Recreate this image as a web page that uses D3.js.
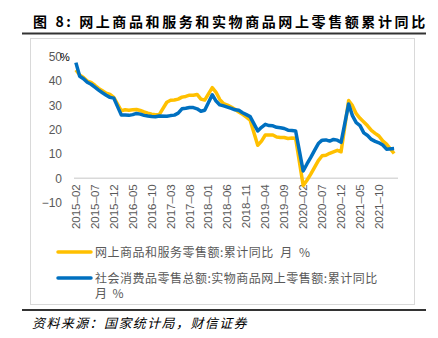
<!DOCTYPE html>
<html>
<head>
<meta charset="utf-8">
<script src="https://cdn.jsdelivr.net/npm/d3@7"></script>
<style>
  body { margin: 0; background: #fff; }
  svg { display: block; }
  text { font-family: "Liberation Sans", Arial, sans-serif; }
  .cjk { font-family: "Noto Sans CJK SC", sans-serif; }
</style>
</head>
<body>
<svg id="chart" width="438" height="338"></svg>
<script>
// months on the category axis (January points are missing in the source data)
const months = [
  "2015-02","2015-03","2015-04","2015-05","2015-06","2015-07","2015-08","2015-09","2015-10","2015-11","2015-12",
  "2016-01","2016-02","2016-03","2016-04","2016-05","2016-06","2016-07","2016-08","2016-09","2016-10","2016-11","2016-12",
  "2017-01","2017-02","2017-03","2017-04","2017-05","2017-06","2017-07","2017-08","2017-09","2017-10","2017-11","2017-12",
  "2018-01","2018-02","2018-03","2018-04","2018-05","2018-06","2018-07","2018-08","2018-09","2018-10","2018-11","2018-12",
  "2019-01","2019-02","2019-03","2019-04","2019-05","2019-06","2019-07","2019-08","2019-09","2019-10","2019-11","2019-12",
  "2020-01","2020-02","2020-03","2020-04","2020-05","2020-06","2020-07","2020-08","2020-09","2020-10","2020-11","2020-12",
  "2021-01","2021-02","2021-03","2021-04","2021-05","2021-06","2021-07","2021-08","2021-09","2021-10","2021-11","2021-12",
  "2022-01","2022-02"
];

// 网上商品和服务零售额:累计同比 (%)
const onlineAll = [
  44.6, 42.5, 41.5, 40.0, 39.5, 38.3, 37.0, 36.0, 35.0, 34.5, 33.3,
  null, 27.8, 28.2, 28.0, 28.2, 28.3, 27.9, 27.3, 26.8, 26.4, 26.2, 26.2,
  null, 31.3, 32.1, 32.2, 32.6, 33.4, 33.7, 34.2, 34.2, 34.5, 32.6, 32.2,
  null, 37.3, 35.4, 32.4, 30.7, 30.1, 29.3, 28.4, 27.3, 26.3, 25.2, 23.9,
  null, 13.6, 15.3, 17.8, 17.8, 17.8, 17.0, 16.8, 16.8, 16.4, 16.6, 16.5,
  null, -3.0, -0.8, 1.7, 4.5, 7.3, 9.3, 9.5, 10.3, 10.9, 11.5, 10.9,
  null, 32.0, 29.9, 26.6, 24.7, 23.2, 21.6, 19.7, 18.5, 17.4, 15.4, 14.1,
  null, 10.2
];

// 社会消费品零售总额:实物商品网上零售额:累计同比 (%)
const onlineGoods = [
  47.6, 42.0, 41.0, 39.5, 38.7, 37.5, 36.3, 35.2, 34.2, 33.3, 33.0,
  null, 26.0, 26.0, 25.9, 26.2, 26.7, 26.4, 25.9, 25.6, 25.4, 25.3, 25.6,
  null, 25.5, 25.8, 26.0, 26.8, 28.6, 28.8, 29.1, 29.1, 28.6, 27.6, 28.0,
  null, 34.4, 31.8, 30.2, 29.8, 29.3, 28.8, 28.2, 28.0, 27.0, 26.2, 25.4,
  null, 19.5, 21.0, 22.2, 21.7, 21.6, 21.0, 20.8, 20.5, 19.8, 19.7, 19.5,
  null, 3.0, 5.9, 8.6, 11.5, 14.3, 15.7, 15.8, 15.3, 16.0, 15.7, 14.8,
  null, 30.6, 25.8, 22.9, 21.7, 18.7, 17.6, 16.0, 15.2, 14.6, 13.7, 12.0,
  null, 12.3
];

const tickLabels = ["2015-02","2015-07","2015-12","2016-05","2016-10","2017-03","2017-08","2018-01",
  "2018-06","2018-11","2019-04","2019-09","2020-02","2020-07","2020-12","2021-05","2021-10"];
const yTicks = [-10, 0, 10, 20, 30, 40, 50];

const seriesNames = ["网上商品和服务零售额:累计同比  月  %", "社会消费品零售总额:实物商品网上零售额:累计同比"];
const colors = ["#FFC000", "#0070C0"];

const svg = d3.select("#chart");

// title
svg.append("text").attr("class", "cjk")
  .attr("x", 33).attr("y", 27)
  .attr("font-size", 14).attr("font-weight", "bold")
  .attr("letter-spacing", 2.6).attr("fill", "#000")
  .text("图 8:  网上商品和服务和实物商品网上零售额累计同比");
svg.append("line").attr("x1", 22).attr("x2", 426).attr("y1", 33.5).attr("y2", 33.5)
  .attr("stroke", "#333").attr("stroke-width", 2);

// chart frame
svg.append("rect").attr("x", 30.5).attr("y", 38.5).attr("width", 384).attr("height", 266)
  .attr("fill", "#fff").attr("stroke", "#d9d9d9").attr("stroke-width", 1);

const x = d3.scalePoint().domain(months).range([74, 396]).padding(0.5);
const y = d3.scaleLinear().domain([-10, 50]).range([202.6, 56.8]);

// y labels
svg.append("g").selectAll("text").data(yTicks).join("text")
  .attr("x", 62).attr("y", d => y(d)).attr("dy", "0.35em")
  .attr("text-anchor", "end").attr("font-size", 12).attr("fill", "#595959")
  .text(d => d < 0 ? "\u2212" + Math.abs(d) : d);
// unit label, overlapping the top tick label as in the source
svg.append("text").attr("x", 60).attr("y", 61).attr("font-size", 11).attr("fill", "#000").text("%");

// zero axis line
svg.append("line").attr("x1", 74).attr("x2", 398).attr("y1", y(0)).attr("y2", y(0))
  .attr("stroke", "#d9d9d9").attr("stroke-width", 1.5);

// x labels
svg.append("g").selectAll("text").data(tickLabels).join("text")
  .attr("transform", d => `translate(${x(d) + 4},${y(0) + 6}) rotate(-90)`)
  .attr("text-anchor", "end").attr("font-size", 11.5).attr("fill", "#595959")
  .text(d => d.replace("-", "\u2013"));

// lines (gaps for missing January points are connected, as in the source)
const line = d3.line().x(d => x(d.m)).y(d => y(d.v));
[onlineAll, onlineGoods].forEach((vals, k) => {
  const pts = months.map((m, i) => ({ m, v: vals[i] })).filter(d => d.v != null);
  svg.append("path").datum(pts)
    .attr("d", line).attr("fill", "none")
    .attr("stroke", colors[k]).attr("stroke-width", 3.5)
    .attr("stroke-linejoin", "round");
});

// legend
const legY = [252, 278];
legY.forEach((ly, k) => {
  svg.append("line").attr("x1", 58).attr("x2", 91).attr("y1", ly).attr("y2", ly)
    .attr("stroke", colors[k]).attr("stroke-width", 3.5).attr("stroke-linecap", "round");
  svg.append("text").attr("class", "cjk")
    .attr("x", 95).attr("y", ly + 4.5)
    .attr("font-size", 12).attr("letter-spacing", 0.5).attr("fill", "#595959")
    .attr("xml:space", "preserve")
    .text(seriesNames[k]);
});
svg.append("text").attr("class", "cjk")
  .attr("x", 95).attr("y", 298).attr("font-size", 12).attr("fill", "#595959")
  .attr("xml:space", "preserve").text("月  %");

// bottom rule and source
svg.append("line").attr("x1", 22).attr("x2", 426).attr("y1", 310).attr("y2", 310)
  .attr("stroke", "#333").attr("stroke-width", 2);
svg.append("text").attr("class", "cjk")
  .attr("x", 32).attr("y", 328)
  .attr("font-size", 13).attr("font-style", "italic").attr("letter-spacing", 1.4).attr("fill", "#000")
  .text("资料来源：国家统计局，财信证券");
</script>
</body>
</html>
